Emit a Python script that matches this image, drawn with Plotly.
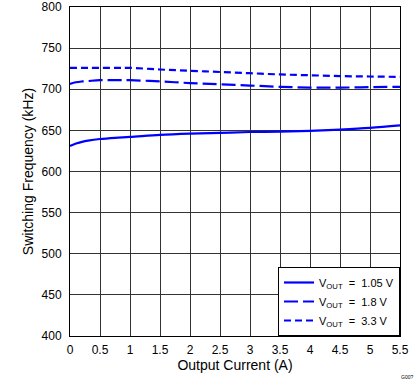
import plotly.graph_objects as go

current_a = [0, 0.1, 0.2, 0.3, 0.5, 0.75, 1.0, 1.5, 2.0, 2.5, 3.0, 3.5, 4.0, 4.5, 5.0, 5.5]
freq_105 = [631, 634, 636, 637.5, 639.5, 641, 642, 644.5, 646, 647, 648, 648.5, 649.5, 651, 653, 656]
freq_18 = [706.5, 708.5, 709.5, 710, 711, 711, 711, 709.5, 707.5, 706, 704.5, 703, 702, 702, 702.5, 703]
freq_33 = [726, 726, 726, 726, 726, 726, 726, 724, 722.5, 721, 719.5, 718, 717, 716, 715.5, 715]

series_names = ["V<sub>OUT</sub>  =  1.05 V", "V<sub>OUT</sub>  =  1.8 V", "V<sub>OUT</sub>  =  3.3 V"]
x_ticks = [0, 0.5, 1, 1.5, 2, 2.5, 3, 3.5, 4, 4.5, 5, 5.5]
x_tick_labels = ["0", "0.5", "1", "1.5", "2", "2.5", "3", "3.5", "4", "4.5", "5", "5.5"]
y_ticks = [400, 450, 500, 550, 600, 650, 700, 750, 800]

blue = "#0000ff"
fig = go.Figure()
for ys, name, dash in zip([freq_105, freq_18, freq_33], series_names,
                          ["solid", "14px,5px", "7px,4px"]):
    fig.add_trace(go.Scatter(x=current_a, y=ys, mode="lines", name=name,
                             line=dict(color=blue, width=2.2, dash=dash, shape="spline")))

fig.update_layout(
    width=419, height=382,
    margin=dict(l=70, r=19, t=7, b=46, pad=0),
    paper_bgcolor="white", plot_bgcolor="white",
    font=dict(family="Liberation Sans, Arial, sans-serif", size=12, color="black"),
    showlegend=True,
    legend=dict(x=1, y=0, xanchor="right", yanchor="bottom",
                bgcolor="white", bordercolor="black", borderwidth=1,
                font=dict(size=11), tracegroupgap=0, itemwidth=30,
                ),
    xaxis=dict(range=[0, 5.5], tickvals=x_ticks, ticktext=x_tick_labels,
               showgrid=True, gridcolor="#333333", gridwidth=1,
               showline=True, linecolor="black", linewidth=1, mirror=True,
               zeroline=False, ticks="", automargin=False, ticklabelstandoff=3,
               title=dict(text="Output Current (A)", standoff=2)),
    yaxis=dict(range=[400, 800], tickvals=y_ticks,
               showgrid=True, gridcolor="#333333", gridwidth=1,
               showline=True, linecolor="black", linewidth=1, mirror=True,
               zeroline=False, ticks="", automargin=False, ticklabelstandoff=5,
               title=dict(text="Switching Frequency (kHz)", standoff=4)),
)
fig.add_annotation(text="G00?", x=1, y=0, xref="paper", yref="paper",
                   xanchor="right", yanchor="middle", xshift=15, yshift=-41,
                   showarrow=False, font=dict(size=5, color="black"))
fig.write_html("out.html", config={"displayModeBar": False},
               post_script="document.body.style.margin='0';document.body.style.padding='0';")
